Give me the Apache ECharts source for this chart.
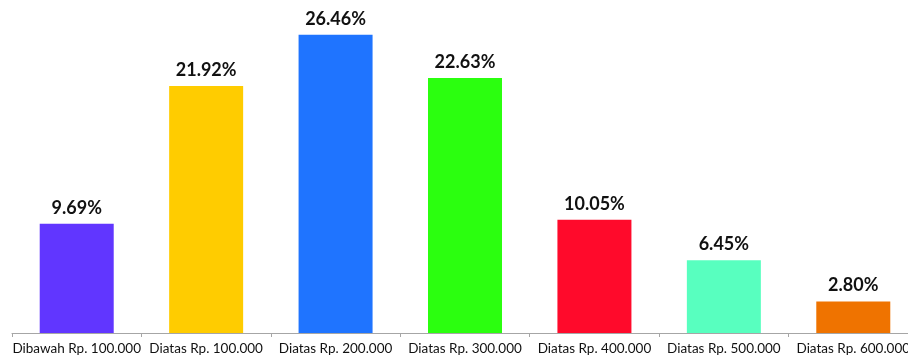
<!DOCTYPE html>
<html>
<head>
<meta charset="utf-8">
<script src="https://cdn.jsdelivr.net/npm/echarts@6/dist/echarts.min.js"></script>
<style>
html,body{margin:0;padding:0;background:#fff;overflow:hidden;width:908px;height:358px;}
#chart{width:918px;height:358px;}
</style>
</head>
<body>
<div id="chart"></div>
<script>
const categories = ["Dibawah Rp. 100.000", "Diatas Rp. 100.000", "Diatas Rp. 200.000", "Diatas Rp. 300.000", "Diatas Rp. 400.000", "Diatas Rp. 500.000", "Diatas Rp. 600.000"];
const values = [9.69, 21.92, 26.46, 22.63, 10.05, 6.45, 2.80];
const barColors = ["#6136FF", "#FFCC00", "#1F74FF", "#2BFF0F", "#FF0A2B", "#58FFBF", "#EF7300"];

const chart = echarts.init(document.getElementById('chart'), null, {renderer: 'canvas'});
chart.setOption({
  animation: false,
  backgroundColor: '#ffffff',
  grid: {left: 12, right: 0, top: 0, height: 333, containLabel: false},
  xAxis: {
    type: 'category',
    data: categories,
    boundaryGap: true,
    axisLine: {show: true, lineStyle: {color: '#A6A6A6', width: 1}},
    axisTick: {show: true, length: 4, lineStyle: {color: '#A6A6A6'}},
    axisLabel: {
      interval: 0,
      color: '#111',
      fontSize: 13.5,
      fontFamily: 'Lato, sans-serif',
      margin: 9
    }
  },
  yAxis: {
    type: 'value',
    min: 0,
    max: 29.55,
    show: false,
    splitLine: {show: false}
  },
  series: [{
    type: 'bar',
    data: values.map((v, i) => ({value: v, itemStyle: {color: barColors[i]}})),
    barWidth: 74,
    label: {
      show: true,
      position: 'top',
      distance: 7,
      formatter: p => p.value.toFixed(2) + '%',
      fontFamily: 'Lato, sans-serif',
      fontWeight: 'bold',
      fontSize: 18,
      color: '#111'
    }
  }]
});
</script>
</body>
</html>
